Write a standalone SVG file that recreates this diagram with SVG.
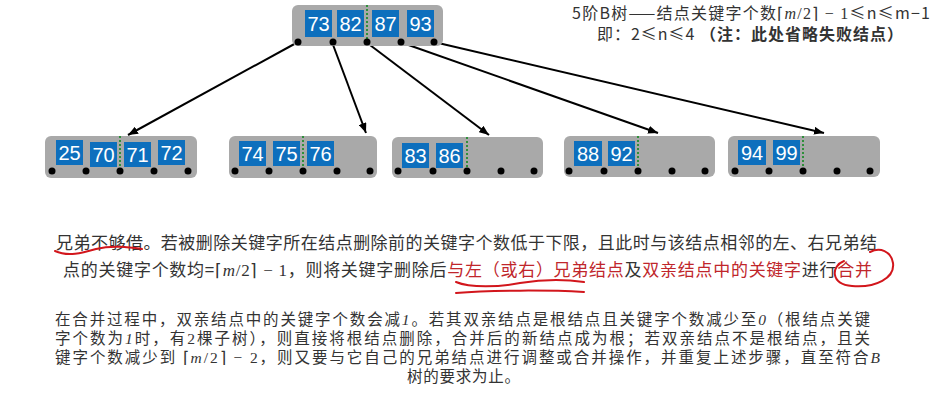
<svg xmlns="http://www.w3.org/2000/svg" width="941" height="420" viewBox="0 0 941 420">
<style>
.node{fill:#a9a9a9;}
.key{fill:#0d6fbd;}
.kt{fill:#fff;font-family:"Liberation Sans",Arial,sans-serif;font-size:20px;text-anchor:middle;}
.dot{fill:#000;}
.mid{stroke:#2f8f3a;stroke-width:2;stroke-dasharray:2,2;}
.edge{stroke:#000;stroke-width:2;fill:none;marker-end:url(#ah);}
.cn{font-family:"Noto Sans CJK SC","Noto Sans",sans-serif;fill:#333;}
.m{font-family:"Liberation Serif",serif;}
.i{font-style:italic;}
.red{fill:#c0262b;}
.ink{stroke:#d2161c;stroke-width:2;fill:none;stroke-linecap:round;}
</style>
<defs>
<marker id="ah" viewBox="0 0 10 8" refX="10" refY="4" markerWidth="10" markerHeight="8" markerUnits="userSpaceOnUse" orient="auto">
<path d="M0,0 L10,4 L0,8 z" fill="#000"/>
</marker>
</defs>

<g id="connectors">
<line class="edge" x1="298" y1="42" x2="128" y2="135"/>
<line class="edge" x1="332" y1="42" x2="366" y2="133"/>
<line class="edge" x1="366" y1="42" x2="489" y2="135"/>
<line class="edge" x1="400" y1="42" x2="658" y2="133"/>
<line class="edge" x1="434" y1="42" x2="824" y2="133"/>
</g>

<g id="root">
<rect class="node" x="292" y="5" width="151" height="41" rx="6"/>
<rect class="key" x="305" y="10" width="27" height="27"/><text class="kt" x="318.5" y="31">73</text>
<rect class="key" x="337" y="10" width="27" height="27"/><text class="kt" x="350.5" y="31">82</text>
<rect class="key" x="372" y="10" width="27" height="27"/><text class="kt" x="385.5" y="31">87</text>
<rect class="key" x="407" y="10" width="27" height="27"/><text class="kt" x="420.5" y="31">93</text>
<line class="mid" x1="367" y1="5" x2="367" y2="42"/>
<circle class="dot" cx="298" cy="42" r="3.5"/><circle class="dot" cx="333" cy="42" r="3.5"/><circle class="dot" cx="367" cy="42" r="3.5"/><circle class="dot" cx="401" cy="42" r="3.5"/><circle class="dot" cx="434" cy="42" r="3.5"/>
</g>

<g id="n1">
<rect class="node" x="45" y="136" width="152" height="42" rx="6"/>
<rect class="key" x="56" y="140" width="27" height="25"/><text class="kt" x="69.5" y="160">25</text>
<rect class="key" x="90" y="142" width="27" height="25"/><text class="kt" x="103.5" y="162">70</text>
<rect class="key" x="124" y="142" width="27" height="25"/><text class="kt" x="137.5" y="162">71</text>
<rect class="key" x="158" y="140" width="27" height="25"/><text class="kt" x="171.5" y="160">72</text>
<line class="mid" x1="120" y1="136" x2="120" y2="171"/>
<circle class="dot" cx="52" cy="171" r="3.5"/><circle class="dot" cx="86" cy="171" r="3.5"/><circle class="dot" cx="120" cy="171" r="3.5"/><circle class="dot" cx="154" cy="171" r="3.5"/><circle class="dot" cx="188" cy="171" r="3.5"/>
</g>

<g id="n2">
<rect class="node" x="229" y="136" width="148" height="42" rx="6"/>
<rect class="key" x="239" y="141" width="27" height="25"/><text class="kt" x="252.5" y="161">74</text>
<rect class="key" x="273" y="141" width="27" height="25"/><text class="kt" x="286.5" y="161">75</text>
<rect class="key" x="307" y="141" width="27" height="25"/><text class="kt" x="320.5" y="161">76</text>
<line class="mid" x1="303" y1="136" x2="303" y2="171"/>
<circle class="dot" cx="235" cy="171" r="3.5"/><circle class="dot" cx="269" cy="171" r="3.5"/><circle class="dot" cx="303" cy="171" r="3.5"/><circle class="dot" cx="337" cy="171" r="3.5"/><circle class="dot" cx="370" cy="171" r="3.5"/>
</g>

<g id="n3">
<rect class="node" x="392" y="137" width="151" height="41" rx="6"/>
<rect class="key" x="402" y="143" width="27" height="25"/><text class="kt" x="415.5" y="163">83</text>
<rect class="key" x="436" y="143" width="27" height="25"/><text class="kt" x="449.5" y="163">86</text>
<line class="mid" x1="467" y1="137" x2="467" y2="171"/>
<circle class="dot" cx="398" cy="171" r="3.5"/><circle class="dot" cx="433" cy="171" r="3.5"/><circle class="dot" cx="467" cy="171" r="3.5"/><circle class="dot" cx="501" cy="171" r="3.5"/><circle class="dot" cx="534" cy="171" r="3.5"/>
</g>

<g id="n4">
<rect class="node" x="564" y="136" width="151" height="41" rx="6"/>
<rect class="key" x="574" y="141" width="28" height="25"/><text class="kt" x="588" y="161">88</text>
<rect class="key" x="608" y="141" width="27" height="25"/><text class="kt" x="621.5" y="161">92</text>
<line class="mid" x1="638" y1="136" x2="638" y2="171"/>
<circle class="dot" cx="569" cy="171" r="3.5"/><circle class="dot" cx="604" cy="171" r="3.5"/><circle class="dot" cx="638" cy="171" r="3.5"/><circle class="dot" cx="672" cy="171" r="3.5"/><circle class="dot" cx="705" cy="171" r="3.5"/>
</g>

<g id="n5">
<rect class="node" x="728" y="136" width="152" height="41" rx="6"/>
<rect class="key" x="738" y="140" width="28" height="25"/><text class="kt" x="752" y="160">94</text>
<rect class="key" x="773" y="140" width="27" height="25"/><text class="kt" x="786.5" y="160">99</text>
<line class="mid" x1="803" y1="136" x2="803" y2="171"/>
<circle class="dot" cx="735" cy="171" r="3.5"/><circle class="dot" cx="769" cy="171" r="3.5"/><circle class="dot" cx="803" cy="171" r="3.5"/><circle class="dot" cx="837" cy="171" r="3.5"/><circle class="dot" cx="870" cy="171" r="3.5"/>
</g>

<g id="caption">
<text class="cn" x="572" y="19" font-size="16" textLength="358">5阶B树——结点关键字个数<tspan class="m">⌈<tspan class="i">m</tspan>/2⌉ − 1</tspan>≤n≤m−1</text>
<text class="cn" x="597" y="40" font-size="16" textLength="306">即：2≤n≤4 <tspan font-weight="bold">（注：此处省略失败结点）</tspan></text>
</g>

<g id="para1">
<text class="cn" x="56" y="249" font-size="17" textLength="821">兄弟不够借。若被删除关键字所在结点删除前的关键字个数低于下限，且此时与该结点相邻的左、右兄弟结</text>
<text class="cn" x="63" y="276" font-size="17" textLength="809">点的关键字个数均=<tspan class="m">⌈<tspan class="i">m</tspan>/2⌉ − 1</tspan>，则将关键字删除后<tspan class="red">与左（或右）兄弟结点</tspan>及<tspan class="red">双亲结点中的关键字</tspan>进行<tspan class="red">合并</tspan></text>
</g>

<g id="para2">
<text class="cn" x="55" y="325" font-size="15.5" textLength="815">在合并过程中，双亲结点中的关键字个数会减<tspan class="m i">1</tspan>。若其双亲结点是根结点且关键字个数减少至<tspan class="m i">0</tspan>（根结点关键</text>
<text class="cn" x="55" y="344" font-size="15.5" textLength="815">字个数为<tspan class="m i">1</tspan>时，有<tspan class="m">2</tspan>棵子树），则直接将根结点删除，合并后的新结点成为根；若双亲结点不是根结点，且关</text>
<text class="cn" x="55" y="363" font-size="15.5" textLength="825">键字个数减少到 <tspan class="m">⌈<tspan class="i">m</tspan>/2⌉ − 2</tspan>，则又要与它自己的兄弟结点进行调整或合并操作，并重复上述步骤，直至符合<tspan class="m i">B</tspan></text>
<text class="cn" x="407" y="382" font-size="15.5" textLength="113">树的要求为止。</text>
</g>

<g id="annotations">
<path class="ink" d="M55,251 C68,257 82,253 96,249 C112,245 128,247 142,249"/>
<path class="ink" d="M456,282 C470,288 500,287 520,283 C545,279 570,280 584,282"/>
<path class="ink" d="M456,293 C490,290 550,290 584,292"/>
<path class="ink" d="M844,261 C831,266 830,284 852,286 C876,288 895,278 893,263 C891,251 880,247 870,252"/>
</g>
</svg>
